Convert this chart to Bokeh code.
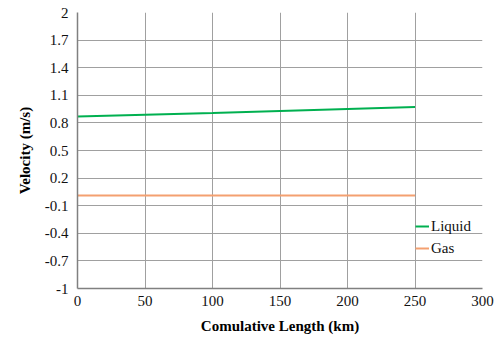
from bokeh.plotting import figure
from bokeh.models import Range1d, FixedTicker, Legend, LegendItem
from bokeh.embed import file_html
from bokeh.resources import INLINE

length_km = [0, 50, 100, 150, 200, 250]
liquid_velocity = [0.870, 0.889, 0.907, 0.929, 0.951, 0.973]
gas_velocity = [0.012, 0.012, 0.012, 0.012, 0.012, 0.012]
x_ticks = [0, 50, 100, 150, 200, 250, 300]
y_ticks = [-1, -0.7, -0.4, -0.1, 0.2, 0.5, 0.8, 1.1, 1.4, 1.7, 2]

FONT = "Liberation Serif"

p = figure(width=501, height=340, output_backend="svg", toolbar_location=None,
           x_range=Range1d(0, 300), y_range=Range1d(-1, 2))
p.min_border_left = 77
p.min_border_right = 19
p.min_border_top = 12
p.min_border_bottom = 52
p.outline_line_color = None
p.background_fill_color = "white"
p.border_fill_color = "white"

l1 = p.line(length_km, liquid_velocity, line_color="#00b050", line_width=2)
l2 = p.line(length_km, gas_velocity, line_color="#f4a070", line_width=2)

p.xaxis.ticker = FixedTicker(ticks=x_ticks)
p.yaxis.ticker = FixedTicker(ticks=y_ticks)
p.yaxis.major_label_overrides = {v: ("%g" % v) for v in y_ticks}

for ax in (p.xaxis[0], p.yaxis[0]):
    ax.major_tick_out = 0
    ax.major_tick_in = 0
    ax.minor_tick_out = 0
    ax.minor_tick_in = 0
    ax.axis_line_color = "#808080"
    ax.axis_line_width = 1.5
    ax.major_label_text_font = FONT
    ax.major_label_text_font_size = "15px"
    ax.major_label_text_color = "#111111"
    ax.axis_label_text_font = FONT
    ax.axis_label_text_font_style = "bold"
    ax.axis_label_text_font_size = "15px"
    ax.axis_label_text_color = "#000000"

p.xaxis.axis_label = "Comulative Length (km)"
p.yaxis.axis_label = "Velocity (m/s)"
p.xaxis.major_label_standoff = 7
p.yaxis.major_label_standoff = 9
p.xaxis.axis_label_standoff = 9
p.yaxis.axis_label_standoff = 9

p.grid.grid_line_color = "#a0a0a0"
p.grid.grid_line_width = 1

legend = Legend(items=[LegendItem(label="Liquid", renderers=[l1]),
                       LegendItem(label="Gas", renderers=[l2])],
                location=(338, 30))
legend.background_fill_alpha = 0
legend.border_line_color = None
legend.label_text_font = FONT
legend.label_text_font_size = "15px"
legend.label_text_color = "#111111"
legend.glyph_width = 14
legend.label_standoff = 2
legend.spacing = 2
legend.padding = 2
legend.margin = 0
p.add_layout(legend)

open("out.html", "w").write(file_html(p, INLINE))
